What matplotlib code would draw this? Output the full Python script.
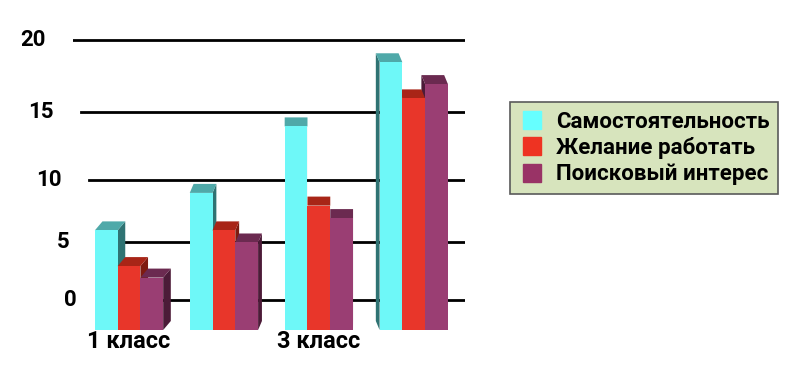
import numpy as np
import matplotlib
matplotlib.use("Agg")
import matplotlib.pyplot as plt
from matplotlib.patches import Polygon
from matplotlib.lines import Line2D
from matplotlib.transforms import IdentityTransform

plt.rcParams['font.family'] = ['Roboto', 'DejaVu Sans']
plt.rcParams['font.weight'] = 'bold'

# data
categories = ["1 класс", "2 класс", "3 класс", "4 класс"]
shown_labels = ["1 класс", "", "3 класс", ""]
series = ["Самостоятельность", "Желание работать", "Поисковый интерес"]
samost = [6, 9, 14, 18.5]
zhelanie = [3, 6, 8, 16]
poisk = [2, 5, 7, 17]
y_ticks = [0, 5, 10, 15, 20]

# colours: front face, top face, side face
front = ['#6EF8F8', '#E8362A', '#9A3E73']
top = ['#4FA9A9', '#A82517', '#6B2A50']
side = ['#2F7373', '#7E1B10', '#4C1B38']
legend_colors = ['#66FFFF', '#EE3322', '#993366']


# perspective-like value scale (gridlines get wider apart towards the top)
def persp(v):
    v = np.asarray(v, dtype=float)
    return 11 * v + 0.1 * v ** 2


def persp_inv(y):
    y = np.asarray(y, dtype=float)
    return (-11 + np.sqrt(np.maximum(121 + 0.4 * y, 0))) / 0.2


fig = plt.figure(figsize=(7.96, 3.70), dpi=100)
ax = fig.add_axes([73 / 796, 40 / 370, 392 / 796, 293 / 370])
ax.set_yscale('function', functions=(persp, persp_inv))
floor = -2.8  # fake 3d floor below zero
ax.set_ylim(floor, 20.2)
ax.set_xlim(-0.59, 3.54)
for s in ax.spines.values():
    s.set_visible(False)
ax.set_yticks([])
ax.minorticks_off()

# staggered gridlines + labels (perspective look)
for v in y_ticks:
    indent = 0.004 * (20 - v)
    ax.axhline(v, xmin=indent, xmax=1, color='black', lw=2, zorder=1)
    ax.text(indent - 0.07, v, str(v), transform=ax.get_yaxis_transform(),
            ha='right', va='center', fontsize=16, fontweight='bold')

values = [samost, zhelanie, poisk]
width = 0.24
x = np.arange(len(categories))
T = ax.transData
dy = 9
z = 2
for g in range(len(categories)):
    xc_px = T.transform((x[g], 0))[0]
    dx = -0.04 * (xc_px - 320)
    order = range(3) if dx >= 0 else reversed(range(3))
    for i in order:
        xl = x[g] + (i - 1) * width - width / 2
        v = values[i][g]
        p0 = T.transform((xl, floor))
        p1 = T.transform((xl + width, floor))
        p2 = T.transform((xl + width, v))
        p3 = T.transform((xl, v))
        d = np.array([dx, dy])
        cap = Polygon([p3, p2, p2 + d, p3 + d], closed=True, facecolor=top[i],
                      edgecolor='none', transform=IdentityTransform(), zorder=z, clip_on=False)
        if dx >= 0:
            sp = [p1, p2, p2 + d, p1 + d]
        else:
            sp = [p0, p3, p3 + d, p0 + d]
        sd = Polygon(sp, closed=True, facecolor=side[i], edgecolor='none',
                     transform=IdentityTransform(), zorder=z, clip_on=False)
        ax.add_patch(sd)
        ax.add_patch(cap)
        ax.bar(xl, v - floor, width, bottom=floor, align='edge', color=front[i],
               zorder=z + 0.5, clip_on=False)
        z += 1

ax.set_xticks(x, shown_labels, fontsize=17, fontweight='bold')
ax.tick_params(axis='x', length=0, pad=0)

handles = [Line2D([], [], ls='', marker='s', ms=13, mfc=c, mec=c) for c in legend_colors]
leg = fig.legend(handles, series, loc='center', bbox_to_anchor=(0.809, 0.6),
                 prop=dict(weight='bold', size=16),
                 frameon=True, fancybox=False, facecolor='#D7E4BD', edgecolor='#5A5A5A',
                 framealpha=1, handlelength=1.2, handletextpad=0.48, labelspacing=0.2,
                 borderpad=0.4, borderaxespad=0)
leg.get_frame().set_linewidth(1.2)

fig.savefig("out.png", dpi=100)
